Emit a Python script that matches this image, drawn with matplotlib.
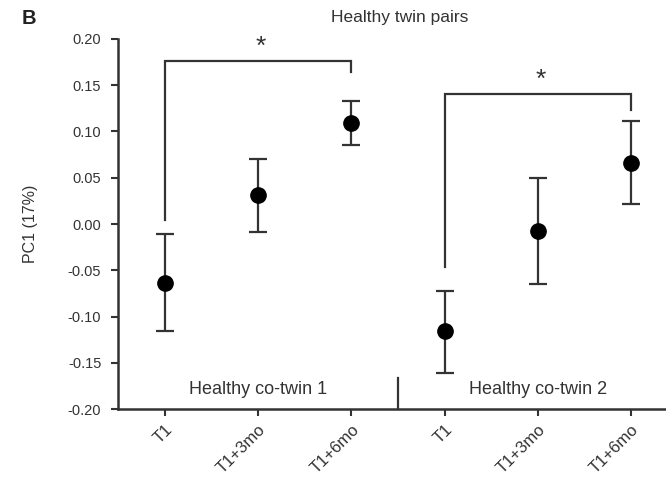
import matplotlib
matplotlib.use("Agg")
import matplotlib.pyplot as plt
import matplotlib.transforms as mtrans

categories = ["T1", "T1+3mo", "T1+6mo", "T1", "T1+3mo", "T1+6mo"]
groups = ["Healthy co-twin 1", "Healthy co-twin 2"]
means = [-0.064, 0.031, 0.109, -0.116, -0.007, 0.066]
err_upper = [-0.011, 0.0705, 0.133, -0.072, 0.050, 0.111]
err_lower = [-0.116, -0.0086, 0.085, -0.161, -0.065, 0.0216]
# significance brackets: (x_start, x_end, y_top, y_left_bottom, y_right_bottom, star_y)
brackets = [(0, 2, 0.176, 0.004, 0.1645, 0.1915),
            (3, 5, 0.1404, -0.046, 0.123, 0.156)]

dark = "#333333"
plt.rcParams['font.family'] = ['Liberation Sans', 'DejaVu Sans']

fig = plt.figure(figsize=(6.66, 4.8), dpi=100)
ax = fig.add_axes([0.1772, 0.1473, 0.8228, 0.772])

x = list(range(len(means)))
yerr = [[m - lo for m, lo in zip(means, err_lower)],
        [hi - m for m, hi in zip(means, err_upper)]]
ax.errorbar(x, means, yerr=yerr, fmt='o', color='black', ms=11,
            ecolor=dark, elinewidth=1.6, capsize=6.5, capthick=1.6, zorder=3)

for x0, x1, yt, yl, yr, ys in brackets:
    ax.plot([x0, x0, x1, x1], [yl, yt, yt, yr], color=dark, lw=1.6,
            solid_joinstyle='miter')
    ax.text((x0 + x1) / 2 + 0.03, ys, "*", ha='center', va='center', fontsize=19,
            color=dark)

ax.plot([2.5, 2.5], [-0.2, -0.166], color=dark, lw=1.6, clip_on=False)
ax.text(1, -0.179, groups[0], ha='center', va='center', fontsize=13, color=dark)
ax.text(4, -0.179, groups[1], ha='center', va='center', fontsize=13, color=dark)

ax.set_xlim(-0.504, 5.375)
ax.set_ylim(-0.2, 0.2)
yt_vals = [-0.2, -0.15, -0.1, -0.05, 0.0, 0.05, 0.1, 0.15, 0.2]
ax.set_yticks(yt_vals)
ax.set_yticklabels([f"{v:.2f}" for v in yt_vals])
ax.set_xticks(x)
ax.set_xticklabels(categories, rotation=45, ha='right', va='top',
                   rotation_mode='anchor')
offset = mtrans.ScaledTranslation(9 / 100, -2 / 100, fig.dpi_scale_trans)
for lbl in ax.get_xticklabels():
    lbl.set_transform(lbl.get_transform() + offset)

for s in ['top', 'right']:
    ax.spines[s].set_visible(False)
for s in ['left', 'bottom']:
    ax.spines[s].set_color(dark)
    ax.spines[s].set_linewidth(1.8)
ax.tick_params(axis='both', colors=dark, width=1.5, length=5, labelcolor=dark)
ax.tick_params(axis='y', labelsize=10.5, pad=7)
ax.tick_params(axis='x', labelsize=12, pad=4)

ax.set_ylabel("PC1 (17%)", fontsize=11.5, color=dark)
ax.yaxis.set_label_coords(-0.146, 0.5)
fig.text(0.5998, 0.963, "Healthy twin pairs", ha='center', va='center',
         fontsize=12.5, color=dark)
fig.text(0.043, 0.962, "B", ha='center', va='center', fontsize=14.5,
         fontweight='bold', color='#222222')

fig.savefig("out.png", dpi=100)
